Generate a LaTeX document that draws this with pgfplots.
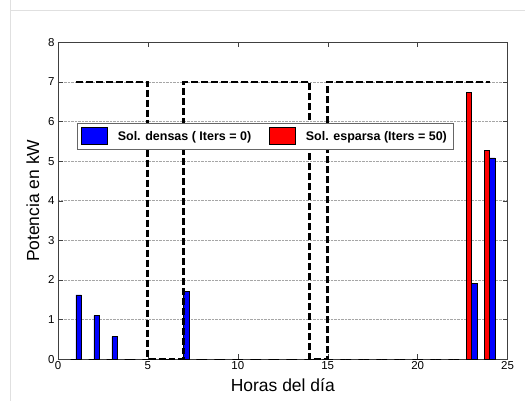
\documentclass[border=0pt]{standalone}
\usepackage{pgfplots}
\pgfplotsset{compat=1.18}
\usepackage{fontspec}
\setmainfont{Liberation Sans}
\begin{document}
\begin{tikzpicture}[x=1pt,y=1pt]
\begin{axis}[
  at={(58pt,42pt)}, anchor=south west,
  scale only axis, width=450pt, height=317pt,
  xmin=0, xmax=25, ymin=0, ymax=8,
  xtick={0,5,...,25}, ytick={0,1,...,8},
  tick align=inside, major tick length=5pt,
  ymajorgrids, grid style={densely dotted, gray!70, line width=0.6pt},
  axis line style={black!75, line width=0.8pt},
  every tick/.style={black!75},
  ticklabel style={font=\fontsize{11.5}{13}\selectfont},
  xticklabel style={yshift=1pt},
  /pgf/number format/assume math mode=true,
  xlabel={Horas del día}, ylabel={Potencia en kW},
  label style={font=\fontsize{17.5}{20}\selectfont},
  xlabel style={yshift=-2pt},
  ylabel style={yshift=2pt},
  legend columns=2,
  legend style={at={(0.042,0.745)}, anchor=north west, draw=black!60, line width=0.6pt,
    font=\bfseries\fontsize{12.5}{14}\selectfont, inner xsep=4pt, inner ysep=4pt,
    /tikz/every even column/.append style={column sep=16pt}},
  legend image code/.code={\draw[#1,draw=black,line width=0.6pt] (0pt,-8pt) rectangle (26pt,9pt);
    \path (34pt,0pt);},
]
\addplot[ybar, bar width=5.4pt, bar shift=2.7pt, fill=blue, draw=black, line width=0.8pt] coordinates {
 (1,1.62) (2,1.10) (3,0.57) (4,0) (5,0) (6,0) (7,1.70) (8,0) (9,0) (10,0) (11,0) (12,0)
 (13,0) (14,0) (15,0) (16,0) (17,0) (18,0) (19,0) (20,0) (21,0) (22,0) (23,1.90) (24,5.08)};
\addlegendentry{Sol. densas ( Iters = 0)}
\addplot[ybar, bar width=5.4pt, bar shift=-2.7pt, fill=red, draw=black, line width=0.8pt] coordinates {
 (1,0) (2,0) (3,0) (4,0) (5,0) (6,0) (7,0) (8,0) (9,0) (10,0) (11,0) (12,0)
 (13,0) (14,0) (15,0) (16,0) (17,0) (18,0) (19,0) (20,0) (21,0) (22,0) (23,6.73) (24,5.28)};
\addlegendentry{Sol. esparsa (Iters = 50)}
\addplot[black, line width=2.8pt, dash pattern=on 7pt off 3pt, forget plot] coordinates {
 (1,7) (5,7) (5,0) (7,0) (7,7) (14,7) (14,0) (15,0) (15,7) (24,7)};
\end{axis}
\draw[black!12, line width=0.8pt] (10,401) -- (10,0);
\draw[black!12, line width=0.8pt] (10,391) -- (525,391);
\path (0,0) rectangle (525,401);
\end{tikzpicture}
\end{document}
